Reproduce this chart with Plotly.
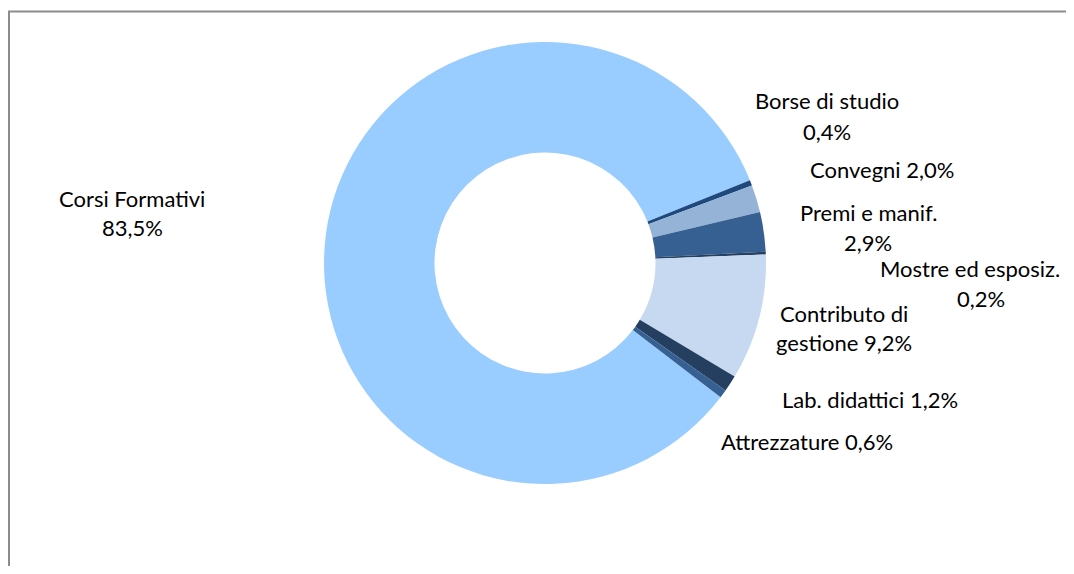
import plotly.graph_objects as go

# ---- data ----
categories = ["Corsi Formativi", "Borse di studio", "Convegni", "Premi e manif.",
              "Mostre ed esposiz.", "Contributo di gestione", "Lab. didattici", "Attrezzature"]
values = [83.5, 0.4, 2.0, 2.9, 0.2, 9.2, 1.2, 0.6]
colors = ["#99CCFF", "#1F497D", "#95B3D7", "#366092",
          "#254061", "#C6D9F1", "#243F60", "#376092"]

def pct(v):
    return f"{v:.1f}".replace(".", ",") + "%"

# label line layout (how each label is split into lines)
label_lines = {
    "Corsi Formativi": ["Corsi Formativi", "{p}"],
    "Borse di studio": ["Borse di studio", "{p}"],
    "Convegni": ["Convegni {p}"],
    "Premi e manif.": ["Premi e manif.", "{p}"],
    "Mostre ed esposiz.": ["Mostre ed esposiz.", "{p}"],
    "Contributo di gestione": ["Contributo di", "gestione {p}"],
    "Lab. didattici": ["Lab. didattici {p}"],
    "Attrezzature": ["Attrezzature {p}"],
}
# label anchor positions in screen pixels: (first line y, per-line x centers)
label_pos = {
    "Corsi Formativi": (198, [132, 132]),
    "Borse di studio": (101, [827, 827]),
    "Convegni": (170, [882]),
    "Premi e manif.": (213, [868, 868]),
    "Mostre ed esposiz.": (268, [970, 981]),
    "Contributo di gestione": (313, [844, 844]),
    "Lab. didattici": (399, [870]),
    "Attrezzature": (441, [807]),
}

OFF = 8  # page body margin
W, H = 1074 - 2 * OFF, 574 - 2 * OFF
cx, cy, R = 545 - OFF, 263 - OFF, 221
line_gap = 30

fig = go.Figure(go.Pie(
    labels=categories,
    values=values,
    sort=False,
    direction="clockwise",
    rotation=127.4,
    hole=0.5,
    marker=dict(colors=colors, line=dict(width=0)),
    textinfo="none",
    hoverinfo="label+percent",
    showlegend=False,
    domain=dict(x=[(cx - R) / W, (cx + R) / W], y=[(H - cy - R) / H, (H - cy + R) / H]),
))

annotations = []
for cat, v in zip(categories, values):
    lines = label_lines[cat]
    y0, xs = label_pos[cat]
    for i, ln in enumerate(lines):
        annotations.append(dict(
            text=ln.format(p=pct(v)),
            x=(xs[i] - OFF) / W, y=1 - (y0 + i * line_gap - OFF) / H,
            xref="paper", yref="paper",
            xanchor="center", yanchor="middle",
            showarrow=False,
            font=dict(family="Lato, Carlito, Calibri, sans-serif", size=22, color="#000000"),
        ))

frame = dict(color="#8C8C8C", width=2)
fig.update_layout(
    width=W, height=H,
    margin=dict(l=0, r=0, t=0, b=0),
    paper_bgcolor="white",
    plot_bgcolor="white",
    annotations=annotations,
    shapes=[
        dict(type="line", xref="paper", yref="paper",
             x0=1 / W, x1=1 / W, y0=-0.05, y1=1 - 3.5 / H, line=frame, layer="below"),
        dict(type="line", xref="paper", yref="paper",
             x0=0, x1=1.05, y0=1 - 3.5 / H, y1=1 - 3.5 / H, line=frame, layer="below"),
    ],
)

fig.write_html("out.html")
